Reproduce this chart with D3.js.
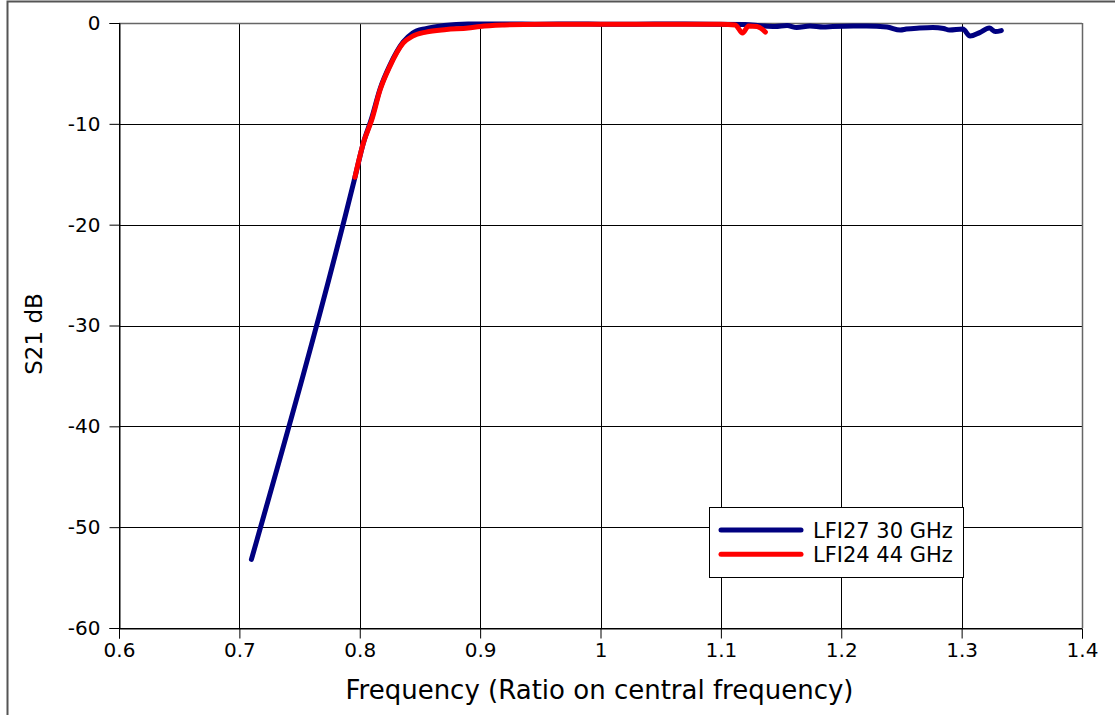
<!DOCTYPE html>
<html><head><meta charset="utf-8">
<script src="https://cdn.jsdelivr.net/npm/d3@7"></script>
<style>
html,body{margin:0;padding:0;background:#fff;}
text{font-family:"DejaVu Sans",sans-serif;fill:#000;}
</style></head>
<body>
<svg id="chart" width="1115" height="715"></svg>
<script>
const xTicks = [0.6,0.7,0.8,0.9,1.0,1.1,1.2,1.3,1.4];
const xTickLabels = ["0.6","0.7","0.8","0.9","1","1.1","1.2","1.3","1.4"];
const yTicks = [0,-10,-20,-30,-40,-50,-60];
const yTickLabels = ["0","-10","-20","-30","-40","-50","-60"];
const seriesNames = ["LFI27 30 GHz","LFI24 44 GHz"];

const blueX = [0.710,0.796,0.803,0.810,0.817,0.825,0.836,0.844,0.855,0.870,0.890,0.920,0.950,0.980,1.000,1.030,1.060,1.090,1.120,1.135,1.145,1.155,1.163,1.174,1.185,1.193,1.210,1.221,1.238,1.249,1.254,1.265,1.276,1.285,1.290,1.301,1.307,1.315,1.323,1.328,1.333];
const blueY = [-53.2,-15.3,-11.9,-9.4,-6.5,-4.2,-1.9,-1.0,-0.55,-0.25,-0.1,-0.1,-0.12,-0.1,-0.12,-0.12,-0.1,-0.12,-0.15,-0.3,-0.35,-0.25,-0.45,-0.3,-0.4,-0.35,-0.3,-0.3,-0.4,-0.7,-0.6,-0.5,-0.45,-0.55,-0.7,-0.6,-1.3,-0.95,-0.5,-0.85,-0.75];

const redX = [0.796,0.803,0.810,0.817,0.825,0.836,0.844,0.855,0.872,0.890,0.900,0.920,0.950,1.000,1.050,1.100,1.112,1.118,1.123,1.130,1.137];
const redY = [-15.3,-11.9,-9.6,-6.6,-4.3,-2.0,-1.3,-0.9,-0.65,-0.5,-0.35,-0.2,-0.12,-0.12,-0.12,-0.12,-0.2,-1.0,-0.3,-0.35,-0.9];

const colors = ["#000080","#ff0000"];

const svg = d3.select("#chart");
const mLeft=119, mRight=1082, mTop=23, mBottom=628;
const x = d3.scaleLinear().domain([0.6,1.4]).range([mLeft,mRight]);
const y = d3.scaleLinear().domain([0,-60]).range([mTop,mBottom]);

// figure frame (partially cropped)
svg.append("path").attr("d","M7.5,716 V1.5 H1116").attr("fill","none").attr("stroke","#555").attr("stroke-width",2);

// grid
const g = svg.append("g");
g.selectAll(".vg").data(xTicks).join("line")
  .attr("x1",d=>Math.round(x(d))+0.5).attr("x2",d=>Math.round(x(d))+0.5)
  .attr("y1",mTop).attr("y2",mBottom).attr("stroke","#000").attr("stroke-width",1);
g.selectAll(".hg").data(yTicks).join("line")
  .attr("y1",d=>Math.round(y(d))+0.5).attr("y2",d=>Math.round(y(d))+0.5)
  .attr("x1",mLeft).attr("x2",mRight).attr("stroke","#000").attr("stroke-width",1);
svg.append("line").attr("x1",mLeft).attr("x2",mRight).attr("y1",Math.round(y(0))+0.5).attr("y2",Math.round(y(0))+0.5).attr("stroke","#666").attr("stroke-width",1.5);
svg.append("line").attr("x1",Math.round(x(1.4))+0.5).attr("x2",Math.round(x(1.4))+0.5).attr("y1",mTop).attr("y2",mBottom).attr("stroke","#666").attr("stroke-width",1.5);

// axes
const xAxis = d3.axisBottom(x).tickValues(xTicks).tickFormat((d,i)=>xTickLabels[i]).tickSize(10).tickPadding(4);
const yAxis = d3.axisLeft(y).tickValues(yTicks).tickFormat((d,i)=>yTickLabels[i]).tickSize(10).tickPadding(9);
const gx = svg.append("g").attr("transform",`translate(0,${Math.round(y(-60))+0.5})`).call(xAxis);
const gy = svg.append("g").attr("transform",`translate(${Math.round(x(0.6))+0.5},0)`).call(yAxis);
[gx,gy].forEach(a=>{
  a.select(".domain").attr("stroke","#000");
  a.selectAll(".tick line").attr("stroke","#000");
  a.selectAll(".tick text").style("font-family","DejaVu Sans").style("font-size","20px").attr("fill","#000");
});

// lines
const line = d3.line().x(d=>x(d[0])).y(d=>y(d[1])).curve(d3.curveMonotoneX);
const blueData = blueX.map((v,i)=>[v,blueY[i]]);
const redData = redX.map((v,i)=>[v,redY[i]]);
[blueData,redData].forEach((dat,i)=>{
  svg.append("path").datum(dat).attr("d",line).attr("fill","none")
    .attr("stroke",colors[i]).attr("stroke-width",5).attr("stroke-linejoin","round").attr("stroke-linecap","round");
});

// legend
const lg = svg.append("g");
lg.append("rect").attr("x",709.5).attr("y",507.5).attr("width",254).attr("height",70).attr("fill","#fff").attr("stroke","#000").attr("stroke-width",1);
seriesNames.forEach((n,i)=>{
  const yy = 530 + i*24.3;
  lg.append("line").attr("x1",721).attr("x2",801).attr("y1",yy).attr("y2",yy).attr("stroke",colors[i]).attr("stroke-width",5).attr("stroke-linecap","round");
  lg.append("text").attr("x",813).attr("y",yy+7.5).style("font-size","21px").text(n);
});

// axis titles
svg.append("text").attr("x",599.5).attr("y",699).attr("text-anchor","middle").style("font-size","26px").text("Frequency (Ratio on central frequency)");
svg.append("text").attr("transform",`translate(42,334) rotate(-90)`).attr("text-anchor","middle").style("font-size","23px").text("S21 dB");
</script>
</body></html>
